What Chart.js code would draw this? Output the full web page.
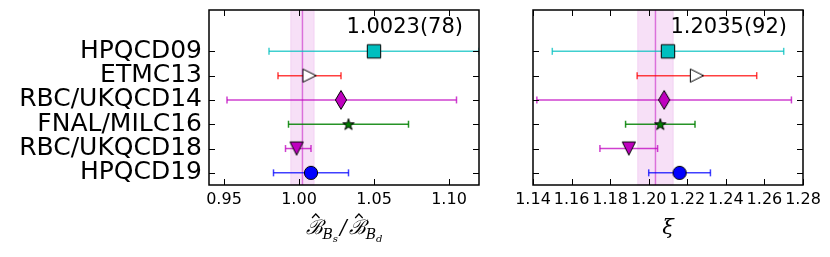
<!DOCTYPE html>
<html>
<head>
<meta charset="utf-8">
<script src="https://cdn.jsdelivr.net/npm/chart.js@4.4.0/dist/chart.umd.min.js"></script>
<style>
  html, body { margin: 0; padding: 0; background: #fff; }
  #wrap { position: relative; width: 830px; height: 257px; }
  canvas { position: absolute; top: 0; }
</style>
</head>
<body>
<div id="wrap">
  <canvas id="leftChart" width="500" height="257" style="left:0;width:500px;height:257px"></canvas>
  <canvas id="rightChart" width="330" height="257" style="left:500px;width:330px;height:257px"></canvas>
</div>
<script>
// Rows, top to bottom
const rows = ['HPQCD09', 'ETMC13', 'RBC/UKQCD14', 'FNAL/MILC16', 'RBC/UKQCD18', 'HPQCD19'];

// Left panel: B_Bs / B_Bd
const ratioVal = [1.05, 1.007, 1.028, 1.033, 0.9984, 1.008];
const ratioLo  = [0.98, 0.986, 0.952, 0.993, 0.991, 0.983];
const ratioHi  = [1.12, 1.028, 1.105, 1.073, 1.008, 1.033];
const ratioAvg = 1.0023, ratioErr = 0.0078;
const ratioTicks = [0.95, 1.00, 1.05, 1.10];

// Right panel: xi
const xiVal = [1.21, 1.225, 1.208, 1.206, 1.1897, 1.216];
const xiLo  = [1.15, 1.194, 1.142, 1.188, 1.1747, 1.200];
const xiHi  = [1.27, 1.256, 1.274, 1.224, 1.2046, 1.232];
const xiAvg = 1.2035, xiErr = 0.0092;
const xiTicks = [1.14, 1.16, 1.18, 1.20, 1.22, 1.24, 1.26, 1.28];

// styles
const barColors = ['rgba(0,191,191,0.75)', 'rgba(255,0,0,0.75)', 'rgba(191,0,191,0.75)',
                   'rgba(0,128,0,0.85)', 'rgba(191,0,191,0.75)', 'rgba(0,0,255,0.75)'];
const markFills = ['#00bfbf', '#ffffff', '#bf00bf', '#008000', '#bf00bf', '#0000ff'];
const markShapes = ['square', 'triR', 'thinDiamond', 'star', 'triD', 'circle'];

function makeMarker(shape, fill) {
    const s = 26, c = document.createElement('canvas');
    c.width = c.height = s;
    const g = c.getContext('2d'), m = s / 2;
    g.beginPath();
    if (shape === 'square') {
        g.rect(m - 6.7, m - 6.7, 13.4, 13.4);
    } else if (shape === 'triR') {
        g.moveTo(m + 6.6, m); g.lineTo(m - 6.6, m - 6.6); g.lineTo(m - 6.6, m + 6.6); g.closePath();
    } else if (shape === 'triD') {
        g.moveTo(m, m + 6.6); g.lineTo(m - 6.6, m - 6.6); g.lineTo(m + 6.6, m - 6.6); g.closePath();
    } else if (shape === 'thinDiamond') {
        g.moveTo(m, m - 9.4); g.lineTo(m + 5.6, m); g.lineTo(m, m + 9.4); g.lineTo(m - 5.6, m); g.closePath();
    } else if (shape === 'star') {
        const R = 6, r = R * 0.382;
        for (let k = 0; k < 10; k++) {
            const a = -Math.PI / 2 + k * Math.PI / 5, rr = k % 2 ? r : R;
            const px = m + rr * Math.cos(a), py = m + 0.5 + rr * Math.sin(a);
            k ? g.lineTo(px, py) : g.moveTo(px, py);
        }
        g.closePath();
    } else {
        g.arc(m, m, 6.6, 0, Math.PI * 2);
    }
    g.fillStyle = fill; g.fill();
    g.lineWidth = 1; g.strokeStyle = '#000'; g.stroke();
    return c;
}
const markers = markShapes.map((s, i) => makeMarker(s, markFills[i]));

const yOf = i => rows.length - 1 - i;

// band, frame, inward ticks, value label and axis title
const framePlugin = {
    id: 'frame',
    beforeDatasetsDraw(chart, args, opts) {
        const { ctx, chartArea: a, scales: { x } } = chart;
        const lo = x.getPixelForValue(opts.avg - opts.err);
        const hi = x.getPixelForValue(opts.avg + opts.err);
        const c = x.getPixelForValue(opts.avg);
        ctx.save();
        ctx.fillStyle = 'rgba(191,0,191,0.12)';
        ctx.fillRect(lo, a.top, hi - lo, a.bottom - a.top);
        ctx.strokeStyle = 'rgba(191,0,191,0.12)';
        ctx.lineWidth = 1;
        ctx.strokeRect(lo, a.top, hi - lo, a.bottom - a.top);
        ctx.strokeStyle = 'rgba(191,0,191,0.5)';
        ctx.lineWidth = 1.5;
        ctx.beginPath(); ctx.moveTo(c, a.top); ctx.lineTo(c, a.bottom); ctx.stroke();
        ctx.restore();
    },
    afterDraw(chart, args, opts) {
        const { ctx, chartArea: a, scales: { x, y } } = chart;
        ctx.save();
        ctx.strokeStyle = '#000';
        ctx.lineWidth = 1;
        const tl = 6;
        ctx.beginPath();
        x.ticks.forEach(t => {
            const px = Math.round(x.getPixelForValue(t.value)) + 0.5;
            ctx.moveTo(px, a.bottom); ctx.lineTo(px, a.bottom - tl);
            ctx.moveTo(px, a.top); ctx.lineTo(px, a.top + tl);
        });
        y.ticks.forEach(t => {
            const py = Math.round(y.getPixelForValue(t.value)) + 0.5;
            ctx.moveTo(a.left, py); ctx.lineTo(a.left + tl, py);
            ctx.moveTo(a.right, py); ctx.lineTo(a.right - tl, py);
        });
        ctx.stroke();
        ctx.lineWidth = 1.5;
        ctx.strokeRect(a.left, a.top, a.right - a.left, a.bottom - a.top);

        ctx.fillStyle = '#000';
        ctx.font = '21px "DejaVu Sans"';
        ctx.textAlign = 'right';
        ctx.textBaseline = 'alphabetic';
        ctx.fillText(opts.label, a.right - 16, a.top + 23);

        const cx = (a.left + a.right) / 2, base = 234;
        if (opts.title === 'xi') {
            ctx.font = 'italic 21px "DejaVu Serif"';
            ctx.textAlign = 'center';
            ctx.fillText('ξ', cx, base);
        } else {
            drawRatioTitle(ctx, cx, base);
        }
        ctx.restore();
    }
};

function drawRatioTitle(ctx, cx, base) {
    const big = 'italic 20px "DejaVu Serif"', mid = 'italic 14px "DejaVu Serif"', sm = 'italic 10px "DejaVu Serif"';
    const parts = [
        { t: 'ℬ', f: big, dy: 0, hat: true }, { t: 'B', f: mid, dy: 5 }, { t: 's', f: sm, dy: 8 },
        { t: '/', f: big, dy: 0, pad: 2 },
        { t: 'ℬ', f: big, dy: 0, hat: true }, { t: 'B', f: mid, dy: 5 }, { t: 'd', f: sm, dy: 8 }
    ];
    let total = 0;
    parts.forEach(p => { ctx.font = p.f; p.w = ctx.measureText(p.t).width + (p.pad || 0) * 2; total += p.w; });
    let xx = cx - total / 2;
    ctx.textAlign = 'left';
    parts.forEach(p => {
        ctx.font = p.f;
        ctx.fillText(p.t, xx + (p.pad || 0), base + p.dy);
        if (p.hat) {
            ctx.lineWidth = 1.2;
            ctx.beginPath();
            ctx.moveTo(xx + p.w * 0.38, base - 16);
            ctx.lineTo(xx + p.w * 0.6, base - 20);
            ctx.lineTo(xx + p.w * 0.82, base - 16);
            ctx.stroke();
        }
        xx += p.w;
    });
}

function buildChart(id, vals, los, his, ticks, xMin, xMax, avg, err, label, title, yWidth, padRight, showRows) {
    const datasets = [{
        data: vals.map((v, i) => ({ x: v, y: yOf(i) })),
        pointStyle: markers,
        pointRadius: 7,
        order: 0
    }];
    rows.forEach((r, i) => {
        datasets.push({
            data: [{ x: los[i], y: yOf(i) }, { x: his[i], y: yOf(i) }],
            showLine: true,
            borderColor: barColors[i],
            borderWidth: 1.5,
            pointStyle: 'line',
            pointRotation: 90,
            pointRadius: 3.5,
            pointBorderColor: barColors[i],
            pointBorderWidth: 1.5,
            order: 1
        });
    });
    return new Chart(document.getElementById(id), {
        type: 'scatter',
        data: { datasets },
        options: {
            responsive: false,
            animation: false,
            events: [],
            layout: { padding: { top: 10, right: padRight, left: 0, bottom: 0 } },
            plugins: {
                legend: { display: false },
                tooltip: { enabled: false },
                frame: { avg, err, label, title }
            },
            scales: {
                x: {
                    min: xMin, max: xMax,
                    afterBuildTicks: ax => { ax.ticks = ticks.map(v => ({ value: v })); },
                    afterFit: s => { s.height = 72; s.paddingLeft = 0; s.paddingRight = 0; },
                    grid: { display: false, drawTicks: false },
                    border: { display: false },
                    ticks: {
                        color: '#000', padding: 5, maxRotation: 0, autoSkip: false,
                        font: { family: 'DejaVu Sans', size: 16 },
                        callback: v => Number(v).toFixed(2)
                    }
                },
                y: {
                    min: -0.5, max: 6.7,
                    afterBuildTicks: ax => { ax.ticks = rows.map((r, i) => ({ value: yOf(i) })); },
                    afterFit: s => { s.width = yWidth; s.paddingTop = 0; s.paddingBottom = 0; },
                    grid: { display: false, drawTicks: false },
                    border: { display: false },
                    ticks: {
                        display: showRows,
                        color: '#000', padding: 7, autoSkip: false,
                        font: { family: 'DejaVu Sans', size: 25 },
                        callback: v => rows[rows.length - 1 - v]
                    }
                }
            }
        },
        plugins: [framePlugin]
    });
}

buildChart('leftChart', ratioVal, ratioLo, ratioHi, ratioTicks, 0.94, 1.12,
    ratioAvg, ratioErr, '1.0023(78)', 'ratio', 209, 21, true);
buildChart('rightChart', xiVal, xiLo, xiHi, xiTicks, 1.14, 1.28,
    xiAvg, xiErr, '1.2035(92)', 'xi', 33, 27, false);
</script>
</body>
</html>
